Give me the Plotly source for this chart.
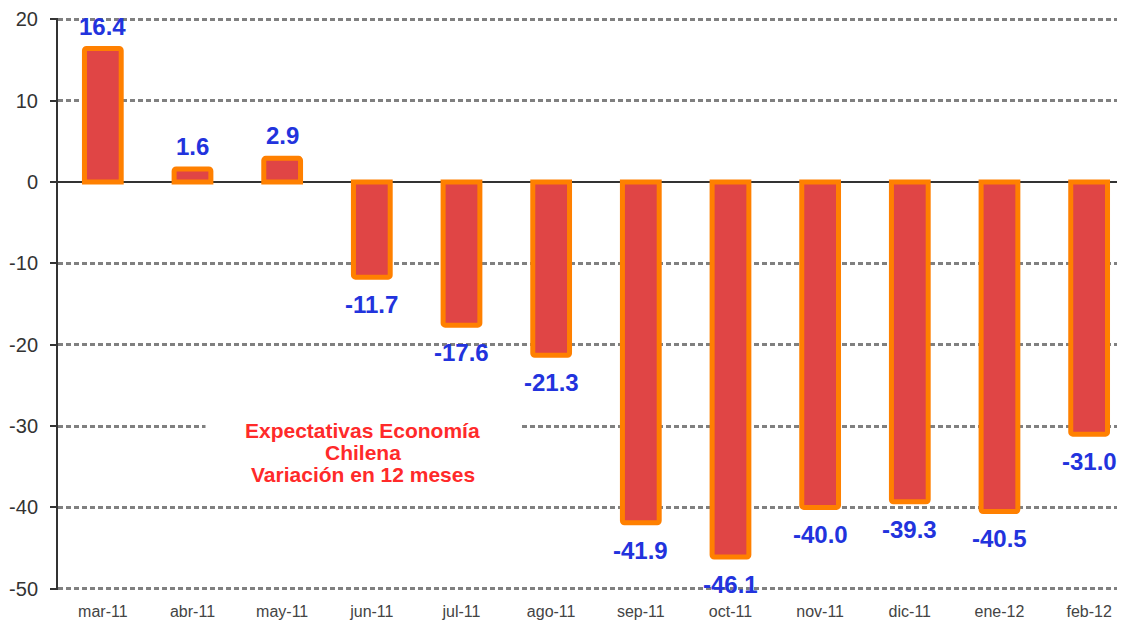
import plotly.graph_objects as go

categories = ["mar-11", "abr-11", "may-11", "jun-11", "jul-11", "ago-11",
              "sep-11", "oct-11", "nov-11", "dic-11", "ene-12", "feb-12"]
values = [16.4, 1.6, 2.9, -11.7, -17.6, -21.3, -41.9, -46.1, -40.0, -39.3, -40.5, -31.0]
y_ticks = [20, 10, 0, -10, -20, -30, -40, -50]
title_lines = ["Expectativas Economía", "Chilena", "Variación en 12 meses"]

FONT = "Liberation Sans, Arial"

fig = go.Figure()
fig.add_trace(go.Bar(
    x=categories, y=values, width=0.41,
    marker=dict(color="#E04545", line=dict(color="#FF8000", width=5), cornerradius=2),
    hoverinfo="skip",
))

for c, v in zip(categories, values):
    fig.add_annotation(
        x=c, y=v, xref="x", yref="y", text=f"{v:.1f}", showarrow=False,
        yanchor="bottom" if v >= 0 else "top",
        yshift=7 if v >= 0 else -12,
        font=dict(family=FONT, size=24, color="#2233DD", weight="bold"),
    )

# white box behind the title text
fig.add_annotation(
    x=2.9, y=-33.3, xref="x", yref="y", showarrow=False, text="",
    width=312, height=84, bgcolor="white",
)
for i, line in enumerate(title_lines):
    fig.add_annotation(
        x=2.9, y=-33.3, xref="x", yref="y", showarrow=False,
        text=line, yshift=22 - 22 * i,
        font=dict(family=FONT, size=21, color="#FF2A2A", weight="bold"),
    )

fig.update_layout(
    width=1117, height=612,
    margin=dict(l=50, r=0, t=6, b=30),
    plot_bgcolor="white", paper_bgcolor="white",
    showlegend=False,
    xaxis=dict(
        type="category", range=[-0.5, 11.4],
        showgrid=False, showline=False, zeroline=False,
        ticks="outside", ticklen=7, tickcolor="rgba(0,0,0,0)",
        tickfont=dict(family=FONT, size=16, color="#444"),
    ),
    yaxis=dict(
        range=[-50.15, 20.15], tickvals=y_ticks, ticktext=[str(t) for t in y_ticks],
        ticklabeloverflow="allow",
        showgrid=True, gridcolor="#808080", gridwidth=2.5, griddash="5px,3px",
        zeroline=True, zerolinecolor="#333", zerolinewidth=2,
        showline=True, linecolor="#333", linewidth=2,
        ticks="outside", ticklen=6, tickcolor="#333", tickwidth=2,
        ticklabelstandoff=8,
        tickfont=dict(family=FONT, size=20, color="#333"),
    ),
)

fig.write_html("out.html")
